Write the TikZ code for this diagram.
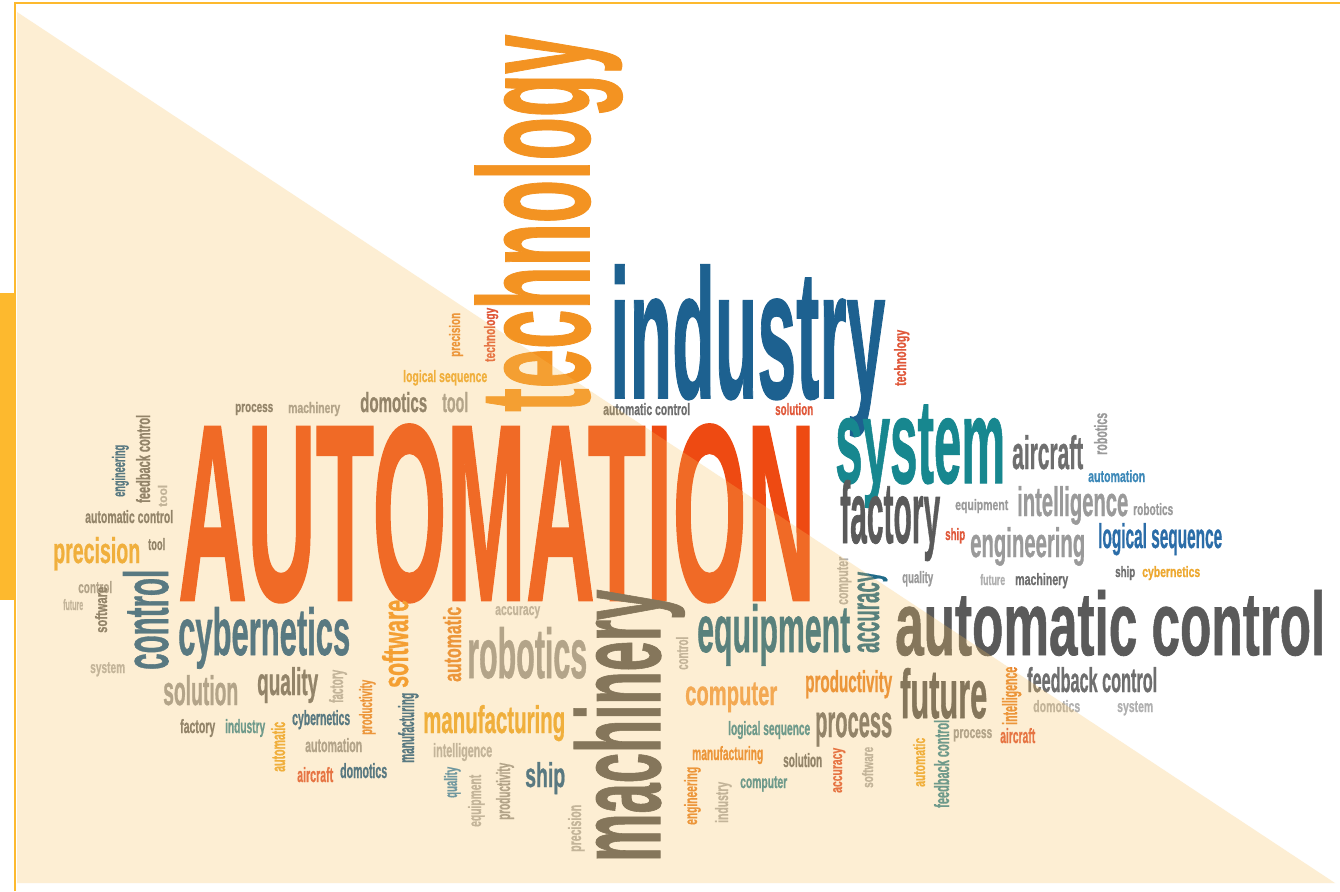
\documentclass[tikz,border=0pt]{standalone}
\usepackage{fontspec}
\usepackage{graphicx}
\newfontfamily\wordfont{Liberation Sans}[BoldFeatures={FakeBold=1}]
\definecolor{autred}{HTML}{EE4A12}
\definecolor{techorange}{HTML}{F39322}
\definecolor{indblue}{HTML}{1D6190}
\definecolor{systeal}{HTML}{17878F}
\definecolor{darkgray}{HTML}{5A5A5A}
\definecolor{midgray}{HTML}{6E6E6E}
\definecolor{lightgray}{HTML}{9A9A9A}
\definecolor{palegray}{HTML}{B0B0B0}
\definecolor{gold}{HTML}{EDA830}
\definecolor{lightorange}{HTML}{F2A050}
\definecolor{orange}{HTML}{E8862E}
\definecolor{brick}{HTML}{E0583A}
\definecolor{steel}{HTML}{1F5F8F}
\definecolor{lightteal}{HTML}{3C8C9C}
\definecolor{skyblue}{HTML}{3C88B8}
\definecolor{seqblue}{HTML}{2B6DA8}
\definecolor{accteal}{HTML}{1F6A88}
\definecolor{tint}{HTML}{F9C25E}
\definecolor{framegold}{HTML}{FDB92E}
\newcommand\fw[3]{\resizebox{#1pt}{#2pt}{\vphantom{l}#3}}

\begin{document}
\begin{tikzpicture}[x=1pt,y=-1pt,
  word/.style={inner sep=0pt, anchor=base west, font=\wordfont\bfseries},
  up/.style={word, rotate=90}]
  \useasboundingbox (0,0) rectangle (1340,891);
  \fill[white] (0,0) rectangle (1340,891);

  \node[word, text=autred] (automation) at (178,600) {\fw{637}{182}{AUTOMATION}};
  \node[word, text=indblue] (industry) at (610,398) {\fw{275}{133}{industry}};
  \node[word, text=systeal] (system) at (835,483) {\fw{170}{87}{system}};
  \node[word, text=midgray] (aircraft) at (1012,469) {\fw{71}{34}{aircraft}};
  \node[word, text=skyblue] (automationS) at (1088,482) {\fw{57}{12}{automation}};
  \node[word, text=lightgray] (equipmentS) at (955,510) {\fw{53}{11}{equipment}};
  \node[word, text=lightgray] (intelligence) at (1017,516) {\fw{111}{30}{intelligence}};
  \node[word, text=lightgray] (roboticsS) at (1133,515) {\fw{40}{12}{robotics}};
  \node[word, text=darkgray] (factory) at (840,543) {\fw{100}{63}{factory}};
  \node[word, text=brick] (shipS) at (945,540) {\fw{20}{12}{ship}};
  \node[word, text=lightgray] (engineering) at (970,557) {\fw{115}{30}{engineering}};
  \node[word, text=seqblue] (logical) at (1098,548) {\fw{124}{25}{logical sequence}};
  \node[word, text=lightgray] (qualityS) at (902,583) {\fw{31}{12}{quality}};
  \node[word, text=palegray] (futureS) at (980,585) {\fw{25}{11}{future}};
  \node[word, text=midgray] (machineryS) at (1015,585) {\fw{53}{12}{machinery}};
  \node[word, text=midgray] (shipT) at (1115,577) {\fw{20}{11}{ship}};
  \node[word, text=gold] (cyberS) at (1142,577) {\fw{58}{11}{cybernetics}};
  \node[word, text=darkgray] (autocontrol) at (895,655) {\fw{430}{65}{automatic control}};
  \node[word, text=accteal] (equipment) at (697,652) {\fw{153}{48}{equipment}};
  \node[word, text=lightorange] (computer) at (685,705) {\fw{92}{25}{computer}};
  \node[word, text=orange] (productivity) at (805,692) {\fw{87}{22}{productivity}};
  \node[word, text=darkgray] (future) at (900,718) {\fw{87}{50}{future}};
  \node[word, text=midgray] (process) at (815,737) {\fw{77}{33}{process}};
  \node[word, text=lightteal] (logicalS) at (728,735) {\fw{82}{14}{logical sequence}};
  \node[word, text=orange] (manufS) at (692,760) {\fw{71}{14}{manufacturing}};
  \node[word, text=midgray] (solutionS) at (783,767) {\fw{39}{14}{solution}};
  \node[word, text=lightteal] (computerS) at (740,788) {\fw{47}{13}{computer}};
  \node[word, text=midgray] (feedback) at (1027,692) {\fw{130}{25}{feedback control}};
  \node[word, text=palegray] (domoticsS) at (1033,712) {\fw{47}{12}{domotics}};
  \node[word, text=palegray] (systemS) at (1117,712) {\fw{36}{12}{system}};
  \node[word, text=lightgray] (processS) at (953,738) {\fw{39}{12}{process}};
  \node[word, text=brick] (aircraftS) at (1000,743) {\fw{35}{15}{aircraft}};
  \node[word, text=gold] (logicalT) at (403,382) {\fw{84}{12}{logical sequence}};
  \node[word, text=midgray] (processT) at (235,412) {\fw{38}{11}{process}};
  \node[word, text=lightgray] (machineryT) at (288,413) {\fw{52}{11}{machinery}};
  \node[word, text=midgray] (domotics) at (360,412) {\fw{67}{20}{domotics}};
  \node[word, text=lightgray] (tool) at (442,412) {\fw{26}{20}{tool}};
  \node[word, text=midgray] (autocontrolT) at (603,415) {\fw{87}{12}{automatic control}};
  \node[word, text=brick] (solutionT) at (775,415) {\fw{38}{12}{solution}};
  \node[word, text=midgray] (autocontrolL) at (85,523) {\fw{88}{13}{automatic control}};
  \node[word, text=gold] (precision) at (53,563) {\fw{87}{26}{precision}};
  \node[word, text=midgray] (toolL) at (148,550) {\fw{17}{12}{tool}};
  \node[word, text=lightgray] (controlL) at (78,593) {\fw{34}{12}{control}};
  \node[word, text=palegray] (futureL) at (63,610) {\fw{20}{11}{future}};
  \node[word, text=palegray] (systemL) at (90,673) {\fw{35}{12}{system}};
  \node[word, text=steel] (cybernetics) at (178,655) {\fw{172}{48}{cybernetics}};
  \node[word, text=lightgray] (solution) at (163,705) {\fw{75}{30}{solution}};
  \node[word, text=midgray] (quality) at (257,695) {\fw{61}{28}{quality}};
  \node[word, text=midgray] (factoryS) at (180,733) {\fw{35}{14}{factory}};
  \node[word, text=lightteal] (industryS) at (225,733) {\fw{40}{14}{industry}};
  \node[word, text=steel] (cyberT) at (292,725) {\fw{58}{15}{cybernetics}};
  \node[word, text=lightgray] (automationT) at (305,752) {\fw{57}{14}{automation}};
  \node[word, text=brick] (aircraftT) at (297,782) {\fw{36}{15}{aircraft}};
  \node[word, text=steel] (domoticsT) at (340,778) {\fw{47}{15}{domotics}};
  \node[word, text=palegray] (accuracyS) at (495,615) {\fw{45}{12}{accuracy}};
  \node[word, text=lightgray] (robotics) at (467,678) {\fw{120}{51}{robotics}};
  \node[word, text=gold] (manufacturing) at (423,733) {\fw{142}{28}{manufacturing}};
  \node[word, text=palegray] (intelS) at (433,757) {\fw{59}{14}{intelligence}};
  \node[word, text=steel] (ship) at (525,787) {\fw{40}{25}{ship}};

  \node[up, text=techorange] (technology) at (589,412) {\fw{377}{114}{technology}};
  \node[up, text=orange] (precisionV) at (460,357) {\fw{44}{11}{precision}};
  \node[up, text=brick] (techV) at (495,362) {\fw{54}{11}{technology}};
  \node[up, text=brick] (techR) at (906,386) {\fw{56}{12}{technology}};
  \node[up, text=lightgray] (roboticsV) at (1107,455) {\fw{42}{13}{robotics}};
  \node[up, text=accteal] (accuracy) at (879,653) {\fw{81}{29}{accuracy}};
  \node[up, text=palegray] (computerV) at (848,605) {\fw{48}{12}{computer}};
  \node[up, text=palegray] (controlV) at (688,670) {\fw{33}{12}{control}};
  \node[up, text=brick] (accuracyV) at (842,793) {\fw{45}{12}{accuracy}};
  \node[up, text=palegray] (softwareV) at (873,788) {\fw{41}{11}{software}};
  \node[up, text=gold] (automaticY) at (925,787) {\fw{49}{12}{automatic}};
  \node[up, text=lightteal] (feedbackV) at (949,808) {\fw{88}{15}{feedback control}};
  \node[up, text=orange] (engineeringV) at (697,825) {\fw{58}{13}{engineering}};
  \node[up, text=palegray] (industryV) at (728,823) {\fw{41}{13}{industry}};
  \node[up, text=orange] (intelV) at (1017,725) {\fw{58}{15}{intelligence}};
  \node[up, text=steel] (engineeringL) at (125,497) {\fw{52}{13}{engineering}};
  \node[up, text=midgray] (feedbackL) at (150,503) {\fw{88}{14}{feedback control}};
  \node[up, text=palegray] (toolV) at (167,507) {\fw{22}{9}{tool}};
  \node[up, text=midgray] (softwareL) at (107,633) {\fw{46}{12}{software}};
  \node[up, text=steel] (control) at (168,670) {\fw{100}{45}{control}};
  \node[up, text=palegray] (factoryV) at (343,703) {\fw{33}{14}{factory}};
  \node[up, text=orange] (productivityV) at (372,735) {\fw{55}{13}{productivity}};
  \node[up, text=techorange] (software) at (408,688) {\fw{88}{26}{software}};
  \node[up, text=steel] (manufV) at (414,763) {\fw{70}{16}{manufacturing}};
  \node[up, text=gold] (automaticL) at (285,772) {\fw{50}{14}{automatic}};
  \node[up, text=orange] (automaticO) at (461,682) {\fw{75}{18}{automatic}};
  \node[up, text=skyblue] (qualityV) at (457,798) {\fw{31}{13}{quality}};
  \node[up, text=palegray] (equipmentV) at (481,827) {\fw{52}{13}{equipment}};
  \node[up, text=lightgray] (productivityW) at (510,820) {\fw{57}{14}{productivity}};
  \node[up, text=palegray] (precisionW) at (581,852) {\fw{47}{13}{precision}};
  \node[up, text=darkgray] (machinery) at (660,862) {\fw{272}{86}{machinery}};

  \fill[tint, fill opacity=0.27] (17,12) -- (1335,883) -- (17,883) -- cycle;
  \fill[framegold] (0,293) rectangle (15,600);
  \draw[framegold, line width=2pt] (15,891) -- (15,3) -- (1340,3);
\end{tikzpicture}
\end{document}
